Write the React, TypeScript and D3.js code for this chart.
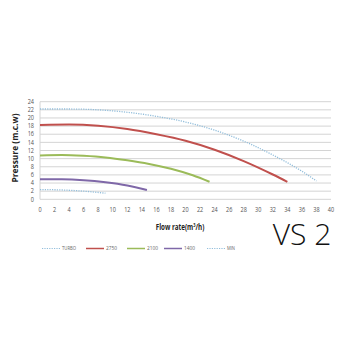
import React from "react";
import * as d3 from "d3";

const xTicks = d3.range(0, 41, 2);
const yTicks = d3.range(0, 25, 2);

const turboFlow = [0, 4, 8, 12, 16, 20, 24, 28, 32, 36, 38];
const turboPressure = [22.2, 22.2, 22.0, 21.4, 20.4, 19.0, 17.0, 14.3, 10.9, 6.9, 4.5];
const r2750Flow = [0, 4, 8, 12, 16, 20, 24, 28, 32, 34];
const r2750Pressure = [18.3, 18.4, 18.1, 17.3, 16.0, 14.4, 12.2, 9.4, 6.1, 4.3];
const r2100Flow = [0, 3, 6, 9, 12, 15, 18, 21, 23.3];
const r2100Pressure = [10.8, 10.9, 10.7, 10.3, 9.6, 8.7, 7.5, 5.9, 4.3];
const r1400Flow = [0, 3, 6, 9, 12, 14.7];
const r1400Pressure = [4.9, 4.9, 4.7, 4.2, 3.4, 2.3];
const minFlow = [0, 3, 6, 9];
const minPressure = [2.4, 2.3, 2.0, 1.5];

const seriesNames = ["TURBO", "2750", "2100", "1400", "MIN"];

export default function App() {
  const W = 350, H = 350;
  const x = d3.scaleLinear().domain([0, 40]).range([40, 331]);
  const y = d3.scaleLinear().domain([0, 24]).range([199.3, 101.7]);

  const series = [
    { name: seriesNames[0], flow: turboFlow, p: turboPressure, color: "#93bedb", dash: "1.2 1.2", w: 1.3 },
    { name: seriesNames[1], flow: r2750Flow, p: r2750Pressure, color: "#c0504d", dash: null, w: 2 },
    { name: seriesNames[2], flow: r2100Flow, p: r2100Pressure, color: "#9bbb59", dash: null, w: 2 },
    { name: seriesNames[3], flow: r1400Flow, p: r1400Pressure, color: "#7f68a8", dash: null, w: 2 },
    { name: seriesNames[4], flow: minFlow, p: minPressure, color: "#93bedb", dash: "1.2 1.2", w: 1.3 },
  ];

  const line = d3
    .line<[number, number]>()
    .x((d) => x(d[0]))
    .y((d) => y(d[1]))
    .curve(d3.curveMonotoneX);

  const legendX = [42, 86, 127, 164, 207];
  const legendTextLen = [14, 11, 11, 11, 8];
  const legendY = 248.5;
  const font = "'Open Sans', Arial, sans-serif";

  return (
    <svg width={W} height={H} style={{ position: "absolute", left: 0, top: 0, background: "#fff" }}>
      <rect x={0} y={0} width={W} height={H} fill="#fff" />
      {yTicks.map((t) => (
        <line key={"g" + t} x1={x(0)} x2={x(40)} y1={y(t)} y2={y(t)} stroke="#d4d4d4" strokeWidth={1} />
      ))}
      <line x1={x(0)} x2={x(0)} y1={y(24)} y2={y(0)} stroke="#d4d4d4" strokeWidth={1} />
      {yTicks.map((t) => (
        <text key={"yt" + t} x={34} y={y(t)} dy="0.35em" textAnchor="end" fontSize={6.5} fill="#555" fontFamily={font}
          transform={`translate(34,0) scale(0.85,1) translate(-34,0)`}>
          {t}
        </text>
      ))}
      {xTicks.map((t) => (
        <text key={"xt" + t} x={x(t)} y={209.5} dy="0.35em" textAnchor="middle" fontSize={6.5} fill="#555" fontFamily={font}
          transform={`translate(${x(t)},0) scale(0.85,1) translate(${-x(t)},0)`}>
          {t}
        </text>
      ))}
      {series.map((s) => (
        <path
          key={s.name}
          d={line(s.flow.map((f, i) => [f, s.p[i]] as [number, number])) || ""}
          fill="none"
          stroke={s.color}
          strokeWidth={s.w}
          strokeDasharray={s.dash || undefined}
        />
      ))}
      <text
        transform="translate(15,148) rotate(-90)"
        textAnchor="middle"
        dy="0.35em"
        fontSize={9.5}
        fontWeight="bold"
        fill="#222"
        fontFamily={font}
        textLength={69}
        lengthAdjust="spacingAndGlyphs"
      >
        Pressure (m.c.w)
      </text>
      <text x={180} y={227} dy="0.35em" textAnchor="middle" fontSize={9.5} fontWeight="bold" fill="#222" fontFamily={font}
        transform="translate(180,0) scale(0.66,1) translate(-180,0)">
        Flow rate(m<tspan fontSize={6} dy="-3">3</tspan><tspan dy="3">/h)</tspan>
      </text>
      <text x={302} y={245} textAnchor="middle" fontSize={30} fontWeight={300} fill="#111" fontFamily="'Open Sans', sans-serif">
        VS 2
      </text>
      {series.map((s, i) => (
        <g key={"lg" + s.name}>
          <line
            x1={legendX[i]}
            x2={legendX[i] + 18}
            y1={legendY}
            y2={legendY}
            stroke={s.color}
            strokeWidth={s.dash ? 1 : 1.5}
            strokeDasharray={s.dash || undefined}
          />
          <text x={legendX[i] + 20} y={legendY} dy="0.35em" fontSize={5} fill="#666" fontFamily={font}
            textLength={legendTextLen[i]} lengthAdjust="spacingAndGlyphs">
            {s.name}
          </text>
        </g>
      ))}
    </svg>
  );
}
